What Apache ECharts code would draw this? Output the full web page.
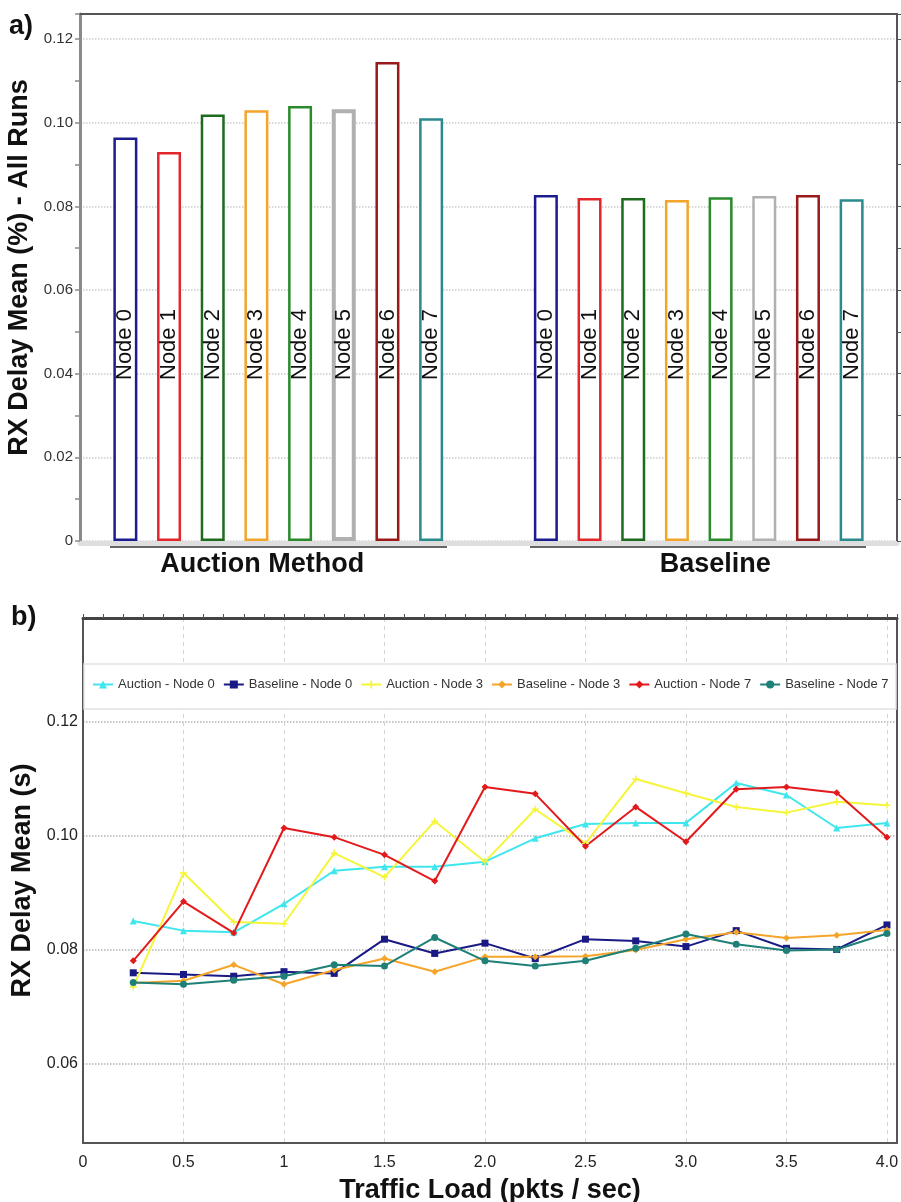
<!DOCTYPE html>
<html><head><meta charset="utf-8">
<script src="https://cdn.jsdelivr.net/npm/echarts@6/dist/echarts.min.js"></script>
<style>html,body{margin:0;padding:0;background:#fff}#c{width:901px;height:1202px}</style>
</head><body><div id="c"></div>
<script>
// ---------- data: panel a ----------
const groups = ['Auction Method', 'Baseline'];
const nodes = ['Node 0', 'Node 1', 'Node 2', 'Node 3', 'Node 4', 'Node 5', 'Node 6', 'Node 7'];
const auctionMeans = [0.0965, 0.0930, 0.1020, 0.1030, 0.1040, 0.1032, 0.1145, 0.1011];
const baselineMeans = [0.0827, 0.0820, 0.0820, 0.0815, 0.0822, 0.0825, 0.0827, 0.0817];
const topTickLabels = ['0', '0.02', '0.04', '0.06', '0.08', '0.10', '0.12'];

// ---------- data: panel b ----------
const loads = [0.25, 0.5, 0.75, 1.0, 1.25, 1.5, 1.75, 2.0, 2.25, 2.5, 2.75, 3.0, 3.25, 3.5, 3.75, 4.0];
const lineNames = ['Auction - Node 0', 'Baseline - Node 0', 'Auction - Node 3', 'Baseline - Node 3', 'Auction - Node 7', 'Baseline - Node 7'];
const auctionNode0 = [0.0851, 0.0834, 0.0831, 0.0881, 0.0939, 0.0946, 0.0946, 0.0955, 0.0996, 0.1021, 0.1023, 0.1023, 0.1093, 0.1072, 0.1014, 0.1023];
const baselineNode0 = [0.0760, 0.0757, 0.0754, 0.0762, 0.0759, 0.0819, 0.0794, 0.0812, 0.0785, 0.0819, 0.0816, 0.0806, 0.0834, 0.0803, 0.0801, 0.0844];
const auctionNode3 = [0.0735, 0.0935, 0.0849, 0.0846, 0.0970, 0.0928, 0.1026, 0.0955, 0.1047, 0.0987, 0.1100, 0.1075, 0.1051, 0.1041, 0.1060, 0.1054];
const baselineNode3 = [0.0742, 0.0746, 0.0774, 0.0740, 0.0765, 0.0785, 0.0762, 0.0788, 0.0788, 0.0789, 0.0800, 0.0819, 0.0831, 0.0821, 0.0826, 0.0835];
const auctionNode7 = [0.0781, 0.0885, 0.0830, 0.1014, 0.0998, 0.0967, 0.0921, 0.1086, 0.1074, 0.0982, 0.1051, 0.0990, 0.1082, 0.1086, 0.1076, 0.0998];
const baselineNode7 = [0.0743, 0.0740, 0.0747, 0.0754, 0.0774, 0.0772, 0.0822, 0.0781, 0.0772, 0.0781, 0.0803, 0.0828, 0.0810, 0.0799, 0.0801, 0.0829];
const loadTickLabels = ['0', '0.5', '1', '1.5', '2.0', '2.5', '3.0', '3.5', '4.0'];
const delayTicks = [0.06, 0.08, 0.10, 0.12];
const delayTickLabels = ['0.06', '0.08', '0.10', '0.12'];

// ---------- styles ----------
const FONT = "Liberation Sans, Arial, sans-serif";
const nodeColors = ['#1c1c8f', '#e3262b', '#1d6b1d', '#f2a52a', '#2b8a2b', '#b0b0b0', '#9a1a1a', '#2a8a8c'];
const lineSeriesData = [auctionNode0, baselineNode0, auctionNode3, baselineNode3, auctionNode7, baselineNode7];
const lineColors = ['#3ee6ee', '#1a1a85', '#f5f53a', '#f5a52a', '#e31a1c', '#1f8078'];
const lineSymbols = ['triangle', 'rect', 'path://M4,0H6V4H10V6H6V10H4V6H0V4H4Z', 'diamond', 'diamond', 'circle'];

const barSeries = nodes.map((n, i) => ({
  type: 'bar', name: n, xAxisIndex: 2, yAxisIndex: 2,
  data: [
    { value: auctionMeans[i], itemStyle: i === 5 ? { borderWidth: 4 } : undefined },
    { value: baselineMeans[i] }
  ],
  barWidth: 24, barGap: '82%',
  itemStyle: { color: '#fff', borderColor: nodeColors[i], borderWidth: 2.5 },
  label: {
    show: true, formatter: n, position: 'insideBottom', rotate: 90,
    align: 'left', verticalAlign: 'middle', distance: 161,
    fontSize: 22, color: '#111', fontFamily: FONT
  },
  emphasis: { disabled: true }
}));

const lineSeries = lineNames.map((n, k) => ({
  type: 'line', name: n, xAxisIndex: 3, yAxisIndex: 3,
  data: loads.map((x, i) => [x, lineSeriesData[k][i]]),
  symbol: lineSymbols[k], symbolSize: 7,
  color: lineColors[k],
  lineStyle: { width: 2, color: lineColors[k] },
  itemStyle: { color: lineColors[k] },
  emphasis: { disabled: true }
}));

const titleStyle = { fontSize: 27, fontWeight: 'bold', color: '#111', fontFamily: FONT };

const chart = echarts.init(document.getElementById('c'), null, { renderer: 'canvas' });
chart.setOption({
  animation: false,
  textStyle: { fontFamily: FONT },
  grid: [
    { left: 80, top: 14, width: 817, height: 527, outerBoundsMode: 'none' },
    { left: 68, top: 14, width: 841, height: 527, outerBoundsMode: 'none' },
    { left: 83, top: 618, width: 814, height: 525, outerBoundsMode: 'none' }
  ],
  xAxis: [
    { gridIndex: 0, type: 'value', min: 0, max: 1, position: 'bottom', offset: 2,
      axisLine: { show: true, onZero: false, lineStyle: { color: '#dedede', width: 5 } },
      axisTick: { show: false }, axisLabel: { show: false }, splitLine: { show: false } },
    { gridIndex: 0, type: 'value', min: 0, max: 1, position: 'top',
      axisLine: { show: true, onZero: false, lineStyle: { color: '#555', width: 2 } },
      axisTick: { show: false }, axisLabel: { show: false }, splitLine: { show: false } },
    { gridIndex: 1, type: 'category', data: groups,
      axisLine: { show: false, onZero: false }, axisTick: { show: false }, splitLine: { show: false },
      axisLabel: {
        margin: 10, interval: 0,
        formatter: (v, i) => (i === 0 ? '{a|' : '{b|') + v + '}',
        rich: {
          a: { fontSize: 27, fontWeight: 'bold', color: '#111', fontFamily: FONT, padding: [0, 32, 0, 0] },
          b: { fontSize: 27, fontWeight: 'bold', color: '#111', fontFamily: FONT, padding: [0, 0, 0, 33] }
        }
      } },
    { gridIndex: 2, type: 'value', min: 0, max: 4.05, interval: 0.5, position: 'bottom',
      axisLine: { show: true, onZero: false, lineStyle: { color: '#555', width: 2 } },
      axisTick: { show: false },
      axisLabel: {
        fontSize: 16, color: '#222', margin: 12, fontFamily: FONT,
        formatter: v => { const i = Math.round(v / 0.5); return Math.abs(v - i * 0.5) < 1e-6 ? (loadTickLabels[i] || '') : ''; }
      },
      splitLine: { show: true, lineStyle: { color: '#d4d4d4', type: [4, 4], width: 1 } },
      name: 'Traffic Load (pkts / sec)', nameLocation: 'middle', nameGap: 34,
      nameTextStyle: titleStyle },
    { gridIndex: 2, type: 'value', min: 0, max: 4.05, interval: 0.1, position: 'top',
      axisLine: { show: true, onZero: false, lineStyle: { color: '#444', width: 3 } },
      axisTick: { show: true, inside: false, length: 4, lineStyle: { color: '#555' } },
      axisLabel: { show: false }, splitLine: { show: false } }
  ],
  yAxis: [
    { gridIndex: 0, type: 'value', min: 0, max: 0.126, interval: 0.02, position: 'left',
      axisLine: { show: true, onZero: false, lineStyle: { color: '#8a8a8a', width: 3 } },
      axisTick: { show: true, length: 5, lineStyle: { color: '#8a8a8a', width: 1.5 } },
      minorTick: { show: true, splitNumber: 2, length: 5, lineStyle: { color: '#8a8a8a', width: 1.5 } },
      axisLabel: {
        fontSize: 15, color: '#333', margin: 7, fontFamily: FONT,
        formatter: v => { const i = Math.round(v / 0.02); return Math.abs(v - i * 0.02) < 1e-7 ? (topTickLabels[i] || '') : ''; }
      },
      splitLine: { show: true, lineStyle: { color: '#cccccc', type: 'dotted', width: 1.5 } },
      name: 'RX Delay Mean (%) - All Runs', nameLocation: 'middle', nameGap: 33,
      nameTextStyle: Object.assign({}, titleStyle, { padding: [0, 0, 0, 20] }) },
    { gridIndex: 0, type: 'value', min: 0, max: 0.126, interval: 0.01, position: 'right',
      axisLine: { show: true, onZero: false, lineStyle: { color: '#555', width: 2 } },
      axisTick: { show: true, inside: false, length: 4, lineStyle: { color: '#555' } },
      axisLabel: { show: false }, splitLine: { show: false } },
    { gridIndex: 1, type: 'value', min: 0, max: 0.126, show: false, splitLine: { show: false } },
    { gridIndex: 2, type: 'value', min: 0.04614, max: 0.13825, position: 'left',
      axisLine: { show: true, onZero: false, lineStyle: { color: '#555', width: 2 } },
      axisTick: { show: false, customValues: delayTicks },
      axisLabel: {
        customValues: delayTicks, fontSize: 16, color: '#222', margin: 5, fontFamily: FONT,
        formatter: v => { const i = delayTicks.findIndex(t => Math.abs(t - v) < 1e-6); return i >= 0 ? delayTickLabels[i] : ''; }
      },
      splitLine: { show: true, lineStyle: { color: '#b4b4b4', type: 'dotted', width: 1.5 } },
      name: 'RX Delay Mean (s)', nameLocation: 'middle', nameGap: 46,
      nameTextStyle: titleStyle },
    { gridIndex: 2, type: 'value', min: 0.04614, max: 0.13825, position: 'right',
      axisLine: { show: true, onZero: false, lineStyle: { color: '#555', width: 2 } },
      axisTick: { show: false }, axisLabel: { show: false }, splitLine: { show: false } }
  ],
  legend: {
    data: lineNames, left: 92, top: 678, itemWidth: 20, itemHeight: 10, itemGap: 8,
    padding: 0,
    textStyle: { fontFamily: FONT, fontSize: 13, color: '#333' }, z: 10
  },
  graphic: [
    { type: 'text', left: 9, top: 13, style: { text: 'a)', font: "bold 27px Liberation Sans, Arial", fill: '#111' } },
    { type: 'text', left: 11, top: 604, style: { text: 'b)', font: "bold 27px Liberation Sans, Arial", fill: '#111' } },
    { type: 'line', shape: { x1: 110, y1: 547, x2: 447, y2: 547 }, style: { stroke: '#666', lineWidth: 2 }, z: 5 },
    { type: 'line', shape: { x1: 530, y1: 547, x2: 866, y2: 547 }, style: { stroke: '#666', lineWidth: 2 }, z: 5 },
    { type: 'rect', shape: { x: 84, y: 664, width: 812, height: 45 }, style: { fill: '#fff', stroke: '#e2e2e2', lineWidth: 1.5 }, z: 3 }
  ],
  series: [...barSeries, ...lineSeries]
});
</script>
</body></html>
